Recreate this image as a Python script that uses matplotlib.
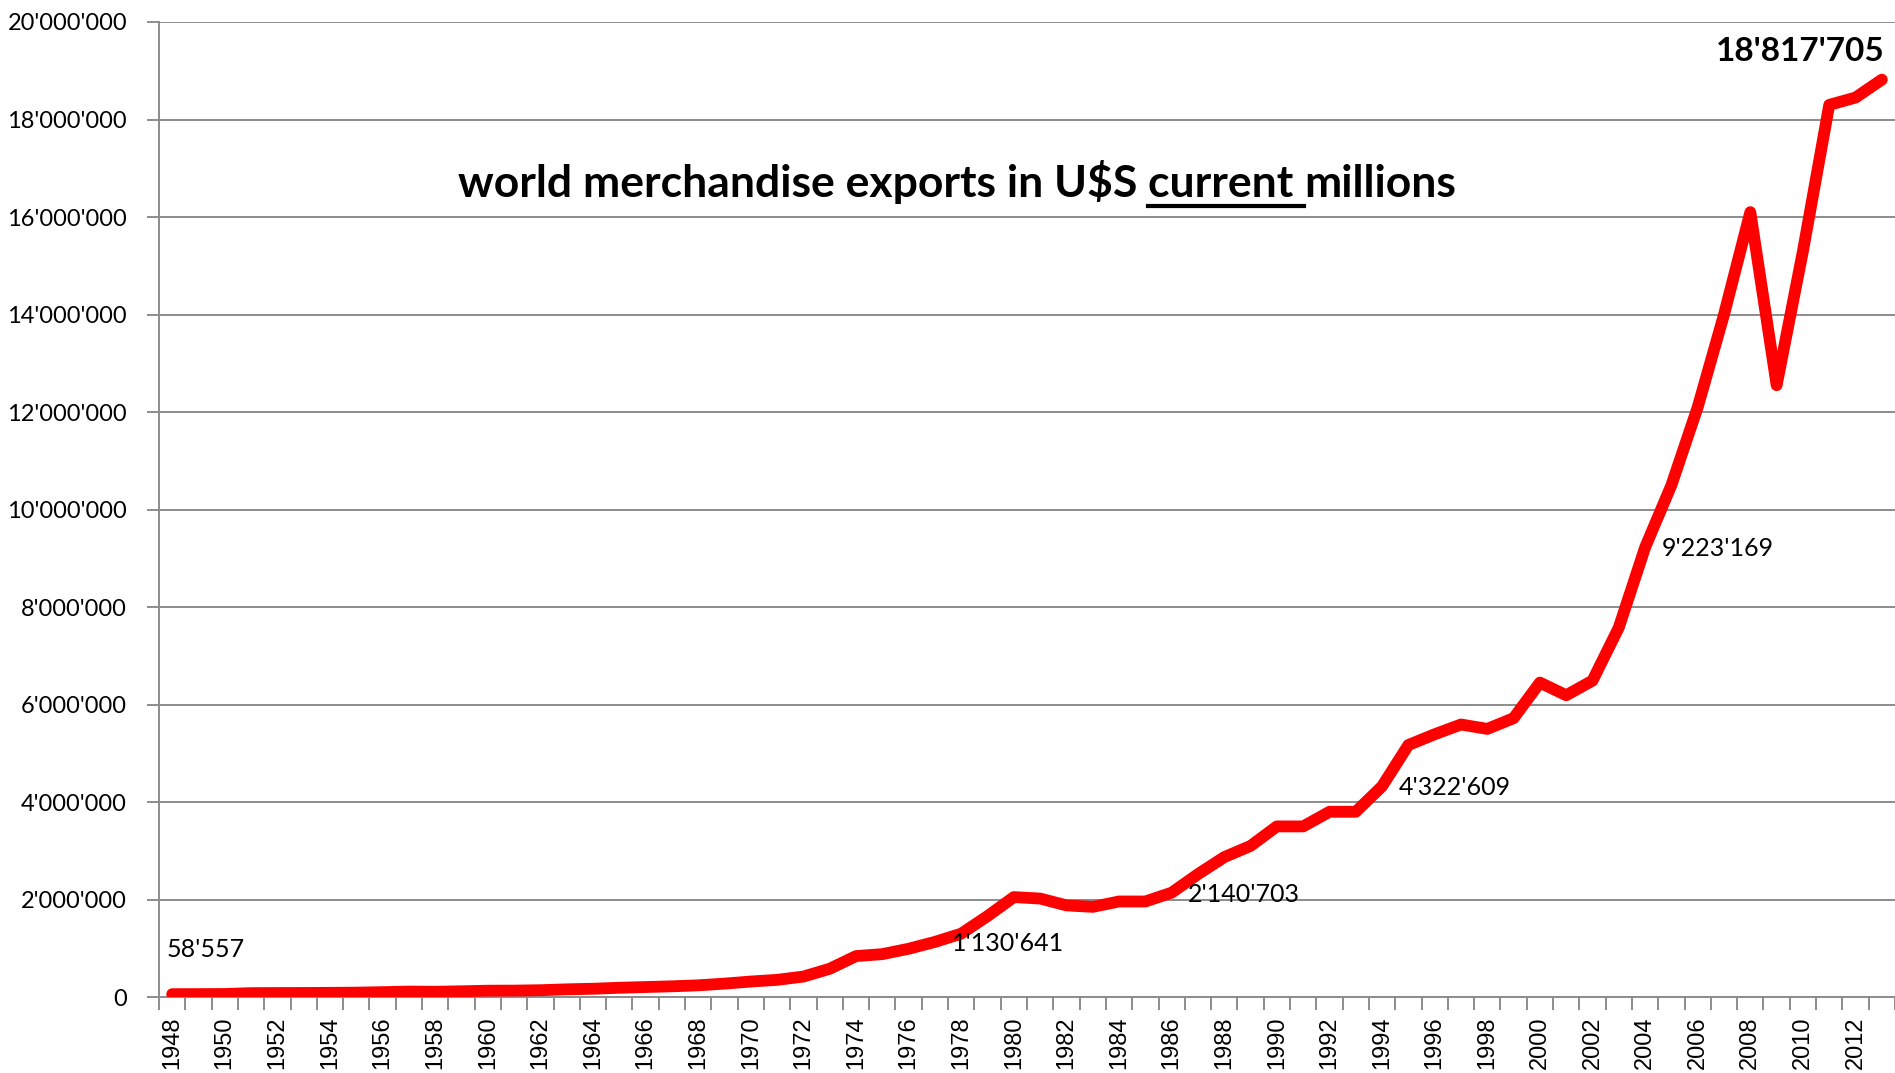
import numpy as np
import matplotlib.pyplot as plt
from matplotlib.ticker import FixedLocator, FuncFormatter

# world merchandise exports, US$ millions (current)
years = list(range(1948, 2014))
exports = [
    58557, 60000, 62000, 80000, 82000, 83000, 86000, 90000, 100000, 112000,
    108000, 118000, 130000, 132000, 140000, 158000, 170000, 190000, 205000, 220000,
    240000, 275000, 318000, 352000, 420000, 580000, 840000, 880000, 990000, 1130641,
    1300000, 1660000, 2050000, 2020000, 1880000, 1850000, 1960000, 1960000, 2140703, 2520000,
    2870000, 3100000, 3500000, 3500000, 3800000, 3800000, 4322609, 5170000, 5390000, 5590000,
    5500000, 5720000, 6450000, 6190000, 6490000, 7580000, 9223169, 10500000, 12100000, 14000000,
    16100000, 12550000, 15300000, 18300000, 18450000, 18817705,
]
label_years = [1977, 1986, 1994, 2004]
title_parts = ["world merchandise exports in U$S ", "current ", "millions"]


def fmt(v):
    return f"{int(v):,}".replace(",", "'")


fig = plt.figure(figsize=(18.95, 10.73), dpi=100)
ax = fig.add_axes([0.0839, 0.0708, 0.9161, 0.9087])

ax.plot(years, exports, color="#ff0000", linewidth=8.5, solid_capstyle="round",
        solid_joinstyle="round", zorder=3)

ax.set_xlim(1947.5, 2013.5)
ax.set_ylim(0, 20000000)

ax.yaxis.set_major_locator(FixedLocator(np.arange(0, 20000001, 2000000)))
ax.yaxis.set_major_formatter(FuncFormatter(lambda v, p: fmt(v)))
ax.grid(axis="y", color="#8c8c8c", linewidth=1.4, zorder=1)

ax.set_xticks(years[::2])
ax.set_xticklabels([str(y) for y in years[::2]], rotation=90,
                   fontsize=17, family="Liberation Sans")
ax.set_xticks(np.arange(1947.5, 2014, 1), minor=True)
ax.tick_params(axis="x", which="major", length=0, pad=14)
ax.tick_params(axis="x", which="minor", length=9, width=1.4, color="#8c8c8c", direction="out")
ax.tick_params(axis="y", length=9, width=1.4, color="#8c8c8c", pad=14)
for lab in ax.get_yticklabels():
    lab.set_family("Lato")
    lab.set_fontsize(17)

for s in ["top", "right"]:
    ax.spines[s].set_visible(False)
for s in ["left", "bottom"]:
    ax.spines[s].set_color("#8c8c8c")
    ax.spines[s].set_linewidth(1.4)

# value labels
ax.annotate(fmt(exports[0]), (years[0], exports[0]), xytext=(-4, 24),
            textcoords="offset points", fontsize=18, family="Lato", va="bottom")
for yr in label_years:
    v = exports[years.index(yr)]
    ax.annotate(fmt(v), (yr, v), xytext=(12, -1), textcoords="offset points",
                fontsize=18, family="Lato", va="center")
ax.annotate(fmt(exports[-1]), (years[-1], exports[-1]), xytext=(2, 10),
            textcoords="offset points", fontsize=24, family="Lato",
            fontweight="bold", ha="right", va="bottom")

# title with "current " underlined
fig.canvas.draw()
r = fig.canvas.get_renderer()
tkw = dict(fontsize=32, family="Lato", fontweight="bold", va="baseline")
tmp = [fig.text(0, 0, t, **tkw) for t in title_parts]
widths = [t.get_window_extent(r).width for t in tmp]
for t in tmp:
    t.remove()
W, H = fig.bbox.width, fig.bbox.height
x0 = 957 - sum(widths) / 2
base_y = H - 197
x = x0
for i, (t, w) in enumerate(zip(title_parts, widths)):
    fig.text(x / W, base_y / H, t, **tkw)
    if i == 1:
        fig.add_artist(plt.Line2D([x / W, (x + w) / W], [(base_y - 9) / H] * 2,
                                  color="black", linewidth=3, transform=fig.transFigure))
    x += w

fig.savefig("out.png", dpi=100)
